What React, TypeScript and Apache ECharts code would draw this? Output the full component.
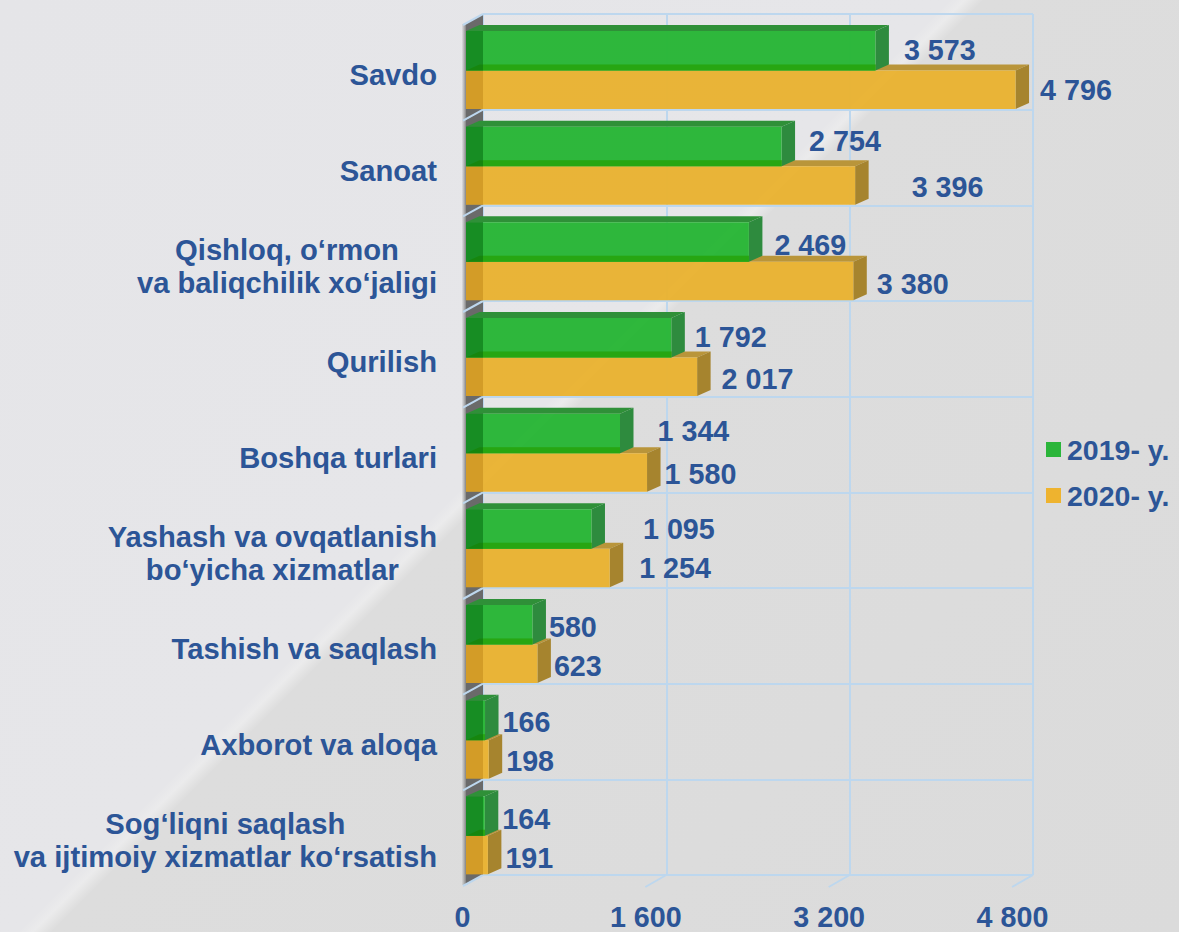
import React, { useEffect, useRef } from "react";
import * as echarts from "echarts";

const categories = [
  "Savdo",
  "Sanoat",
  "Qishloq, o‘rmon\nva baliqchilik xo‘jaligi",
  "Qurilish",
  "Boshqa turlari",
  "Yashash va ovqatlanish\nbo‘yicha xizmatlar",
  "Tashish va saqlash",
  "Axborot va aloqa",
  "Sog‘liqni saqlash\nva ijtimoiy xizmatlar ko‘rsatish",
];
const values2019 = [3573, 2754, 2469, 1792, 1344, 1095, 580, 166, 164];
const values2020 = [4796, 3396, 3380, 2017, 1580, 1254, 623, 198, 191];
const xTicks = [0, 1600, 3200, 4800];
const name2019 = "2019- y.";
const name2020 = "2020- y.";

// label placement quirks of the reference, kept apart from the data
const nudgeX2019 = [15, 14, 12, 10, 24, 38, 3, 4, 4];
const nudgeY2019 = [-0.5, -5.5, 2.5, -0.5, -2.5, -0.5, 2.5, 2, 2.5];
const nudgeX2020 = [11, 43, 10, 11, 4, 16, 3, 4, 4];
const nudgeY2020 = [0.5, 1.5, 2.5, 2.5, 1.5, -0.5, 2.5, 1.5, 2.5];

const FONT = "'Liberation Sans', Arial, sans-serif";
const TEXT = "#2c5597";
const GRID = "#bdd7ee";
const DX = 13.5;
const DY = -6;
const WALL_DX = 17;
const WALL_DY = -10;

const fmt = (v: number) => String(v).replace(/\B(?=(\d{3})+$)/g, " ");

function barItem(
  nudgeX: number[],
  nudgeY: number[],
  offTop: number,
  h: number,
  c: { front: string; top: string; side: string; shade: string; band?: string }
) {
  return (params: any, api: any) => {
    const i = api.value(0);
    const v = api.value(1);
    const [x1, cy] = api.coord([v, i]);
    const [x0] = api.coord([0, i]);
    const band = api.size([0, 1])[1];
    const y0 = cy - band / 2 + offTop;
    const y1 = y0 + h;
    const poly = (points: number[][], fill: string, opacity = 1) => ({
      type: "polygon",
      shape: { points },
      style: { fill, opacity },
    });
    const children: any[] = [
      poly([[x0, y0], [x0 + DX, y0 + DY], [x1 + DX, y0 + DY], [x1, y0]], c.top),
      poly([[x1, y0], [x1 + DX, y0 + DY], [x1 + DX, y1 + DY], [x1, y1]], c.side),
      { type: "rect", shape: { x: x0, y: y0, width: x1 - x0, height: h }, style: { fill: c.front, opacity: 0.96 } },
    ];
    if (c.band) {
      children.push(poly([[x0, y1], [x0 + DX, y1 + DY], [x1, y1 + DY], [x1, y1]], c.band));
    }
    const shadeW = Math.min(WALL_DX, x1 - x0);
    children.push({ type: "rect", shape: { x: x0, y: y0, width: shadeW, height: h }, style: { fill: c.shade } });
    children.push({
      type: "text",
      x: x1 + DX + nudgeX[i],
      y: y0 + h / 2 + nudgeY[i],
      style: {
        text: fmt(v),
        font: `bold 28.7px ${FONT}`,
        fill: TEXT,
        textAlign: "left",
        textVerticalAlign: "middle",
      },
    });
    return { type: "group", children };
  };
}

function wallItem(params: any, api: any) {
  const i = api.value(0);
  const [x0, cy] = api.coord([0, i]);
  const band = api.size([0, 1])[1];
  const top = cy - band / 2;
  const bottom = cy + band / 2;
  const children: any[] = [
    {
      type: "polygon",
      shape: { points: [[x0, top], [x0 + WALL_DX, top + WALL_DY], [x0 + WALL_DX, bottom + WALL_DY], [x0, bottom]] },
      style: { fill: "#6a6a6a" },
    },
    {
      type: "rect",
      shape: { x: x0 - 4, y: top, width: 4, height: band },
      style: {
        fill: new echarts.graphic.LinearGradient(0, 0, 1, 0, [
          { offset: 0, color: "rgba(140,140,140,0.1)" },
          { offset: 1, color: "rgba(120,120,120,0.9)" },
        ]),
      },
    },
    {
      type: "line",
      shape: { x1: x0 + WALL_DX, y1: top + WALL_DY, x2: x0 - 3, y2: top + 1 },
      style: { stroke: GRID, lineWidth: 2 },
    },
  ];
  if (i === categories.length - 1) {
    children.push({
      type: "line",
      shape: { x1: x0 + WALL_DX, y1: bottom + WALL_DY, x2: x0 - 3, y2: bottom + 1 },
      style: { stroke: GRID, lineWidth: 2 },
    });
  }
  return { type: "group", children };
}

function floorTick(params: any, api: any) {
  const [x] = api.coord([api.value(0), 0]);
  const bottom = params.coordSys.y + params.coordSys.height;
  return {
    type: "line",
    shape: { x1: x + WALL_DX, y1: bottom + WALL_DY, x2: x - 4, y2: bottom + 2 },
    style: { stroke: GRID, lineWidth: 2 },
  };
}

export default function App() {
  const ref = useRef<HTMLDivElement>(null);
  useEffect(() => {
    document.body.style.margin = "0";
    const chart = echarts.init(ref.current!, null, { renderer: "svg" });
    chart.setOption({
      animation: false,
      backgroundColor: "transparent",
      textStyle: { fontFamily: FONT },
      grid: [
        { left: 466, top: 24, width: 550, height: 861, outerBoundsMode: "none" },
        { left: 483, top: 14, width: 550, height: 861, outerBoundsMode: "none" },
      ],
      xAxis: [
        {
          type: "value",
          gridIndex: 0,
          min: 0,
          max: 4800,
          interval: 1600,
          axisLine: { show: false },
          axisTick: { show: false },
          splitLine: { show: false },
          axisLabel: {
            margin: 22,
            formatter: fmt,
            fontFamily: FONT,
            fontSize: 28.7,
            lineHeight: 20,
            fontWeight: "bold",
            color: TEXT,
            padding: [0, 7, 0, 0],
          },
        },
        {
          type: "value",
          gridIndex: 1,
          min: 0,
          max: 4800,
          interval: 1600,
          axisLine: { show: false },
          axisTick: { show: false },
          axisLabel: { show: false },
          splitLine: { show: true, lineStyle: { color: GRID, width: 2 } },
        },
      ],
      yAxis: [
        {
          type: "category",
          gridIndex: 0,
          inverse: true,
          data: categories,
          axisLine: { show: false },
          axisTick: { show: false },
          splitLine: { show: false },
          axisLabel: {
            margin: 29,
            interval: 0,
            align: "right",
            padding: [6, 0, 0, 0],
            lineHeight: 33,
            formatter: (s: string) =>
              s.split("\n").map((l) => `{c|${l}}`).join("\n"),
            rich: {
              c: {
                align: "center",
                fontFamily: FONT,
                fontSize: 29.2,
                fontWeight: "bold",
                color: TEXT,
                lineHeight: 33,
              },
            },
          },
        },
        {
          type: "category",
          gridIndex: 1,
          inverse: true,
          data: categories,
          axisLine: { show: false },
          axisTick: { show: false },
          axisLabel: { show: false },
          splitLine: { show: true, interval: 0, lineStyle: { color: GRID, width: 2 } },
        },
      ],
      legend: {
        orient: "vertical",
        left: 1046,
        top: 435,
        padding: 0,
        itemWidth: 15,
        itemHeight: 15,
        itemGap: 17,
        icon: "rect",
        data: [name2019, name2020],
        selectedMode: false,
        textStyle: {
          fontFamily: FONT,
          fontSize: 28.5,
          fontWeight: "bold",
          color: TEXT,
          padding: [0, 0, 0, 1],
        },
      },
      series: [
        {
          type: "custom",
          name: "wall",
          xAxisIndex: 0,
          yAxisIndex: 0,
          z: 2,
          silent: true,
          encode: { x: 1, y: 0 },
          data: categories.map((_, i) => [i, 0]),
          renderItem: wallItem,
        },
        {
          type: "custom",
          name: "ticks",
          xAxisIndex: 0,
          yAxisIndex: 0,
          z: 2,
          silent: true,
          encode: { x: 0 },
          data: xTicks.slice(1).map((v) => [v]),
          renderItem: floorTick,
        },
        {
          type: "custom",
          name: name2020,
          xAxisIndex: 0,
          yAxisIndex: 0,
          z: 3,
          itemStyle: { color: "#eeb32f" },
          encode: { x: 1, y: 0 },
          data: values2020.map((v, i) => [i, v]),
          renderItem: barItem(nudgeX2020, nudgeY2020, 46.5, 38.5, {
            front: "#e9b230",
            top: "#b9953a",
            side: "#a6842e",
            shade: "rgba(150,90,0,0.22)",
          }),
        },
        {
          type: "custom",
          name: name2019,
          xAxisIndex: 0,
          yAxisIndex: 0,
          z: 4,
          itemStyle: { color: "#2bb53a" },
          encode: { x: 1, y: 0 },
          data: values2019.map((v, i) => [i, v]),
          renderItem: barItem(nudgeX2019, nudgeY2019, 7, 39.5, {
            front: "#27b534",
            top: "#2f9038",
            side: "#2e8b3e",
            shade: "rgba(0,90,10,0.42)",
            band: "#27a612",
          }),
        },
      ],
    });
    return () => chart.dispose();
  }, []);
  return (
    <div
      ref={ref}
      style={{
        position: "fixed",
        left: 0,
        top: 0,
        width: 1179,
        height: 932,
        background:
          "linear-gradient(135deg,#e5e5e8 0%,#e6e6e9 45%,#ebebec 45.7%,#dddddd 46.6%,#dbdbdb 100%)",
      }}
    />
  );
}
